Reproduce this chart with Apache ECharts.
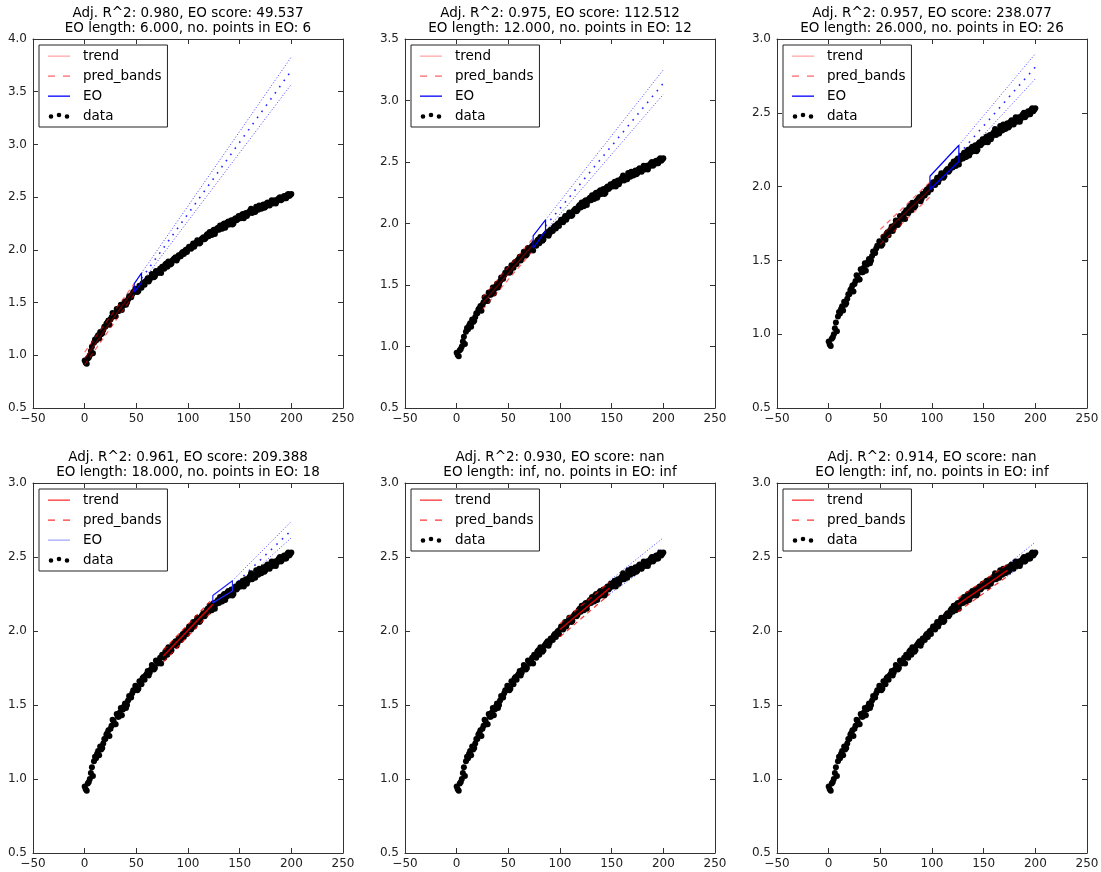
<!DOCTYPE html>
<html>
<head>
<meta charset="utf-8">
<script src="https://cdn.jsdelivr.net/npm/echarts@6/dist/echarts.min.js"></script>
<style>
  html, body { margin: 0; padding: 0; background: #fff; }
  #chart { width: 1101px; height: 872px; }
</style>
</head>
<body>
<div id="chart"></div>
<script>
const evenX = [0,2,4,6,8,10,12,14,16,18,20,22,24,26,28,30,32,34,36,38,40,42,44,46,48,50,
  52,54,56,58,60,62,64,66,68,70,72,74,76,78,80,82,84,86,88,90,92,94,96,98,100,
  102,104,106,108,110,112,114,116,118,120,122,124,126,128,130,132,134,136,138,140,
  142,144,146,148,150,152,154,156,158,160,162,164,166,168,170,172,174,176,178,180,
  182,184,186,188,190,192,194,196,198,200];
const evenY = [0.95,0.92,0.98,1.04,1.02,1.15,1.17,1.16,1.20,1.24,1.27,1.31,1.29,1.36,1.39,1.37,
  1.42,1.45,1.43,1.49,1.48,1.53,1.55,1.58,1.60,1.62,1.61,1.65,1.68,1.67,1.71,1.70,1.74,1.76,
  1.75,1.79,1.80,1.78,1.83,1.86,1.84,1.88,1.87,1.91,1.93,1.92,1.95,1.97,1.96,2.00,2.01,
  2.02,2.04,2.03,2.07,2.08,2.07,2.11,2.10,2.14,2.13,2.16,2.18,2.15,2.20,2.19,2.22,2.24,2.21,
  2.26,2.24,2.28,2.25,2.30,2.29,2.31,2.33,2.30,2.35,2.34,2.37,2.35,2.38,2.41,2.38,2.40,2.42,
  2.40,2.44,2.43,2.45,2.44,2.47,2.46,2.49,2.47,2.50,2.49,2.52,2.51,2.53];
const oddX = [1,3,5,7,9,11,13,15,17,19,21,23,25,27,29,31,33,35,37,39,41,43,45,47,49,
  51,53,55,57,59,61,63,65,67,69,71,73,75,77,79,81,83,85,87,89,91,93,95,97,99,
  101,103,105,107,109,111,113,115,117,119,121,123,125,127,129,131,133,135,137,139,
  141,143,145,147,149,151,153,155,157,159,161,163,165,167,169,171,173,175,177,179,
  181,183,185,187,189,191,193,195,197,199];
const oddY = [0.93,0.97,1.00,1.08,1.12,1.14,1.19,1.22,1.21,1.27,1.30,1.33,1.34,1.40,1.37,
  1.44,1.42,1.48,1.47,1.51,1.50,1.56,1.55,1.60,1.63,1.60,1.66,1.64,1.69,1.70,1.73,1.72,
  1.77,1.74,1.80,1.78,1.82,1.84,1.82,1.87,1.89,1.86,1.90,1.92,1.90,1.95,1.94,1.98,1.99,
  1.98,2.03,2.01,2.06,2.05,2.09,2.06,2.10,2.12,2.11,2.15,2.17,2.14,2.19,2.18,2.21,2.23,
  2.20,2.25,2.23,2.27,2.26,2.24,2.29,2.28,2.32,2.30,2.34,2.33,2.32,2.36,2.39,2.37,2.36,
  2.40,2.42,2.39,2.43,2.41,2.45,2.42,2.47,2.45,2.44,2.48,2.50,2.48,2.51,2.49,2.53,2.52];

const titles = [
  ['Adj. R^2: 0.980, EO score: 49.537', 'EO length: 6.000, no. points in EO: 6'],
  ['Adj. R^2: 0.975, EO score: 112.512', 'EO length: 12.000, no. points in EO: 12'],
  ['Adj. R^2: 0.957, EO score: 238.077', 'EO length: 26.000, no. points in EO: 26'],
  ['Adj. R^2: 0.961, EO score: 209.388', 'EO length: 18.000, no. points in EO: 18'],
  ['Adj. R^2: 0.930, EO score: nan', 'EO length: inf, no. points in EO: inf'],
  ['Adj. R^2: 0.914, EO score: nan', 'EO length: inf, no. points in EO: inf']
];
const yMax = [4.0, 3.5, 3.0, 3.0, 3.0, 3.0];

// fitted trend and prediction bands (start, end)
const trendX = [[0,48],[25,73],[50,98],[76,124],[100,148],[125,173]];
const trendY = [[0.97,1.63],[1.35,1.82],[1.66,1.98],[1.83,2.18],[2.01,2.29],[2.18,2.41]];
const bandUpper = [[1.03,1.68],[1.40,1.87],[1.71,2.03],[1.87,2.22],[2.05,2.33],[2.22,2.45]];
const bandLower = [[0.91,1.58],[1.30,1.77],[1.61,1.93],[1.79,2.14],[1.96,2.25],[2.13,2.37]];

// EO region (panels 5 and 6 have none)
const eoX = [[48,55],[74,86],[98,126],[124,143],null,null];
const eoLower = [[1.60,1.69],[1.80,1.94],[1.98,2.17],[2.19,2.27],null,null];
const eoUpper = [[1.68,1.78],[1.90,2.03],[2.07,2.28],[2.24,2.34],null,null];

// dotted extrapolation to x=200
const extX = [[55,200],[86,200],[126,200],[143,200],[148,200],[173,200]];
const extUpper = [[1.78,3.83],[2.03,3.25],[2.28,2.90],[2.34,2.74],[2.34,2.63],[2.45,2.60]];
const extMid = [[1.73,3.70],[1.98,3.14],[2.22,2.81],[2.30,2.68],[2.29,2.57],[2.41,2.55]];
const extLower = [[1.69,3.57],[1.94,3.05],[2.17,2.73],[2.27,2.63],[2.25,2.51],[2.37,2.50]];

const trendColor = ['rgba(255,0,0,0.35)','rgba(255,0,0,0.35)','rgba(255,0,0,0.35)','rgba(255,0,0,0.8)','rgba(255,0,0,0.8)','rgba(255,0,0,0.8)'];
const bandColor = ['rgba(255,0,0,0.6)','rgba(255,0,0,0.6)','rgba(255,0,0,0.6)','rgba(255,0,0,0.8)','rgba(255,0,0,0.8)','rgba(255,0,0,0.8)'];
const eoColor = ['#0000ff','#0000ff','#0000ff','#2222ff',null,null];
const eoLegendColor = ['#0000ff','#0000ff','#0000ff','rgba(0,0,255,0.35)',null,null];

const gridLeft = [33, 405, 777];
const gridTop = [39, 483];
const gridH = [369, 370];
const gridW = 310;
const titleTop = [6, 450];

const FONT = 'DejaVu Sans';
const ICON_LINE = 'path://M0,0M30,14M0,6.5H22V7.8H0Z';
const ICON_DASH = 'path://M0,0M30,14M0,6.5H7V7.8H0ZM15,6.5H22V7.8H15Z';
const ICON_DOTS = 'path://M0,0M30,14M0.7,7.5a2.3,2.3 0 1,0 4.6,0a2.3,2.3 0 1,0 -4.6,0ZM8.7,6a2.3,2.3 0 1,0 4.6,0a2.3,2.3 0 1,0 -4.6,0ZM16.7,7.5a2.3,2.3 0 1,0 4.6,0a2.3,2.3 0 1,0 -4.6,0Z';

const chart = echarts.init(document.getElementById('chart'), null, { renderer: 'canvas' });

const option = {
  animation: false,
  backgroundColor: '#fff',
  textStyle: { fontFamily: FONT },
  title: [], legend: [], grid: [], xAxis: [], yAxis: [], series: []
};

const points = evenX.map((x, i) => [x, evenY[i]]).concat(oddX.map((x, i) => [x, oddY[i]]));
const seg = (xs, ys) => [[xs[0], ys[0]], [xs[1], ys[1]]];

for (let p = 0; p < 6; p++) {
  const col = p % 3, row = Math.floor(p / 3);
  const left = gridLeft[col], top = gridTop[row], h = gridH[row];

  option.grid.push({ left: left, top: top, width: gridW, height: h, outerBoundsMode: 'none' });
  option.title.push({
    text: titles[p].join('\n'), left: left + gridW / 2, top: titleTop[row], textAlign: 'center', padding: 0,
    textStyle: { fontSize: 13.5, fontWeight: 'normal', lineHeight: 15, color: '#000', fontFamily: FONT }
  });

  const axisLine = { show: true, onZero: false, lineStyle: { color: '#333', width: 1 } };
  const axisTick = { show: true, inside: true, length: 5, lineStyle: { color: '#333', width: 1 } };
  const xBase = { type: 'value', gridIndex: p, min: -50, max: 250, interval: 50, axisLine, axisTick, splitLine: { show: false } };
  const yBase = { type: 'value', gridIndex: p, min: 0.5, max: yMax[p], interval: 0.5, axisLine, axisTick, splitLine: { show: false } };

  option.xAxis.push(Object.assign({}, xBase, {
    position: 'bottom',
    axisLabel: { margin: 5, fontSize: 12, color: '#222', fontFamily: FONT, showMinLabel: true, showMaxLabel: true,
      formatter: v => v < 0 ? '\u2212' + (-v) : String(v) }
  }));
  option.xAxis.push(Object.assign({}, xBase, { position: 'top', axisLabel: { show: false } }));
  option.yAxis.push(Object.assign({}, yBase, {
    position: 'left',
    axisLabel: { margin: 6, fontSize: 12, color: '#222', fontFamily: FONT, showMinLabel: true, showMaxLabel: true,
      formatter: v => v.toFixed(1) }
  }));
  option.yAxis.push(Object.assign({}, yBase, { position: 'right', axisLabel: { show: false } }));

  const xi = 2 * p, yi = 2 * p;
  const base = { xAxisIndex: xi, yAxisIndex: yi, silent: true };

  // extrapolation lines
  option.series.push(Object.assign({}, base, { type: 'line', name: 'ext_up#' + p, symbol: 'none', z: 2,
    data: seg(extX[p], extUpper[p]), lineStyle: { color: 'rgba(0,0,255,0.75)', width: 1, type: [1, 2] } }));
  option.series.push(Object.assign({}, base, { type: 'line', name: 'ext_mid#' + p, symbol: 'none', z: 2,
    data: seg(extX[p], extMid[p]), lineStyle: { color: 'rgba(0,0,255,0.85)', width: 1.6, type: [1.6, 6] } }));
  option.series.push(Object.assign({}, base, { type: 'line', name: 'ext_lo#' + p, symbol: 'none', z: 2,
    data: seg(extX[p], extLower[p]), lineStyle: { color: 'rgba(0,0,255,0.75)', width: 1, type: [1, 2] } }));

  // data
  option.series.push(Object.assign({}, base, { type: 'scatter', name: 'data#' + p, z: 3,
    data: points, symbol: 'circle', symbolSize: 6, itemStyle: { color: '#000', opacity: 1 } }));

  const legendData = [
    { name: 'trend#' + p, icon: ICON_LINE },
    { name: 'pred_bands#' + p, icon: ICON_DASH }
  ];

  // EO polygon
  if (eoX[p]) {
    const x = eoX[p], lo = eoLower[p], up = eoUpper[p];
    option.series.push(Object.assign({}, base, { type: 'line', name: 'EO#' + p, symbol: 'none', z: 4,
      data: [[x[0], lo[0]], [x[0], up[0]], [x[1], up[1]], [x[1], lo[1]], [x[0], lo[0]]],
      itemStyle: { color: eoColor[p] },
      lineStyle: { color: eoColor[p], width: 1.2 } }));
    legendData.push({ name: 'EO#' + p, icon: ICON_LINE, itemStyle: { color: eoLegendColor[p] } });
  }
  legendData.push({ name: 'data#' + p, icon: ICON_DOTS });

  // prediction bands
  option.series.push(Object.assign({}, base, { type: 'line', name: 'pred_bands#' + p, symbol: 'none', z: 5,
    data: seg(trendX[p], bandUpper[p]), itemStyle: { color: bandColor[p] },
    lineStyle: { color: bandColor[p], width: 1.2, type: [5, 4] } }));
  option.series.push(Object.assign({}, base, { type: 'line', name: 'pred_bands#' + p, symbol: 'none', z: 5,
    data: seg(trendX[p], bandLower[p]), itemStyle: { color: bandColor[p] },
    lineStyle: { color: bandColor[p], width: 1.2, type: [5, 4] } }));

  // trend
  option.series.push(Object.assign({}, base, { type: 'line', name: 'trend#' + p, symbol: 'none', z: 6,
    data: seg(trendX[p], trendY[p]), itemStyle: { color: trendColor[p] },
    lineStyle: { color: trendColor[p], width: 1.5 } }));

  option.legend.push({
    orient: 'vertical', left: left + 6, top: top + 6,
    itemWidth: 30, itemHeight: 14, itemGap: 6, padding: [4, 6, 4, 9],
    borderColor: '#222', borderWidth: 1, borderRadius: 0, backgroundColor: '#fff',
    selectedMode: false,
    itemStyle: { borderWidth: 0 },
    textStyle: { fontSize: 13.5, color: '#000', fontFamily: FONT, lineHeight: 14 },
    formatter: n => n.split('#')[0],
    data: legendData
  });
}

chart.setOption(option);
</script>
</body>
</html>
